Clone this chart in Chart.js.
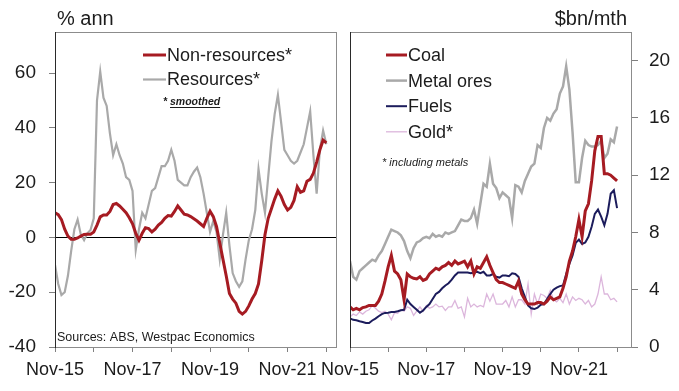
<!DOCTYPE html>
<html>
<head>
<meta charset="utf-8">
<script src="https://cdn.jsdelivr.net/npm/chart.js@4.4.1/dist/chart.umd.min.js"></script>
<style>
  html, body { margin: 0; padding: 0; background: #fff; }
  #wrap { position: relative; width: 679px; height: 391px; overflow: hidden; }
  canvas { position: absolute; top: 0; }
  #left { left: 0; }
  #right { left: 300px; }
</style>
</head>
<body>
<div id="wrap">
  <canvas id="left" width="345" height="391"></canvas>
  <canvas id="right" width="379" height="391"></canvas>
</div>
<script>
/* ---------- data (monthly, Nov-15 .. Nov-22) ---------- */
const monthNames = ["Jan","Feb","Mar","Apr","May","Jun","Jul","Aug","Sep","Oct","Nov","Dec"];
const months = [];
for (let i = 0; i < 85; i++) {
  months.push(monthNames[(10 + i) % 12] + "-" + (15 + Math.floor((10 + i) / 12)));
}
const xTickLabels = ["Nov-15", "Nov-17", "Nov-19", "Nov-21"];

// left panel, % ann
const nonResources = [9, 8.3, 6.5, 3, 0.5, -0.7, -0.7, -0.2, 0.5, 1.1, 1.2, 1.2, 2, 4.5, 7.5, 8.2, 8.2, 9.5, 12, 12.4,
  11.5, 10.3, 9, 7.2, 5, 1.5, -1, 1.5, 3.5, 3.2, 2, 3, 4.5, 5.5, 7, 8, 7.8, 9.5, 11.5, 10,
  8.5, 8.2, 7.6, 6.8, 6, 5, 4, 7, 9.6, 7.6, 4, -2, -8, -14, -20.5, -22.5, -24, -27, -28, -27,
  -25, -22.5, -20.5, -17, -8.5, 1, 7, 10.5, 14, 17, 15, 12, 10, 11, 13.5, 18.5, 16.5, 17, 20.5, 21.2,
  23.5, 27.5, 32, 35.5, 34.5];
const resources = [-10, -17, -21, -20, -14, -5, 3, 6.5, 1, -1, 1.5, 2.7, 7, 50, 60.5, 51, 48, 38, 30, 34,
  30, 27, 22, 21, 17, -4.5, 3, 9, 7, 12, 17, 18, 22, 26, 26, 28, 32, 28, 21, 20,
  19, 19, 22, 24, 25.5, 22, 16, 9, 2, 6, 2, -8, 1, 9, -3, -13, -16, -18, -16, -8,
  -1, 3, 10, 25, 16, 9, 22, 35, 45, 52, 42, 32, 30, 28, 27, 28, 31, 34, 40, 46,
  30, 16, 32, 39, 34];

// right panel, $bn/mth
const coal = [2.8, 2.6, 2.7, 2.6, 2.75, 2.8, 2.9, 2.9, 2.9, 3.2, 3.7, 4.6, 5.6, 6.4, 5.3, 5.1, 4.7, 3.3, 5.1, 4.9,
  4.8, 4.75, 4.9, 4.65, 4.75, 5.1, 5.3, 5.5, 5.4, 5.6, 5.7, 5.9, 5.7, 6.0, 5.8, 5.9, 6.0, 5.6, 6.0, 5.1,
  5.6, 5.5, 5.9, 6.3, 5.7, 5.2, 4.7, 4.5, 4.5, 4.4, 4.3, 4.2, 4.1, 4.6, 3.7, 3.3, 3.0, 3.0, 3.0, 3.1,
  3.1, 3.0, 3.2, 3.5, 3.3, 3.4, 3.5, 4.1, 4.9, 6.0, 6.7, 7.7, 8.9, 7.7, 9.5, 10.0, 11.6, 13.7, 14.7, 14.7,
  12.1, 12.1, 12.0, 11.8, 11.6];
const metalOres = [6.0, 4.9, 4.7, 5.3, 5.5, 5.7, 5.9, 6.1, 6.0, 6.4, 6.7, 7.2, 7.7, 8.2, 8.1, 8.0, 7.8, 7.4, 6.7, 6.2,
  6.9, 7.3, 7.4, 7.6, 7.7, 7.6, 7.9, 7.7, 7.8, 7.7, 8.0, 7.9, 8.0, 8.1, 8.5, 8.9, 8.8, 8.8, 9.0, 9.6,
  8.6, 10.0, 11.4, 11.2, 12.8, 11.4, 11.1, 10.4, 10.8, 10.6, 10.4, 9.0, 11.3, 11.2, 10.8, 11.6, 12.1, 12.6, 12.8, 14.1,
  13.9, 15.3, 16.0, 15.8, 16.3, 16.6, 17.7, 18.2, 19.6, 18.0, 15.0, 11.5, 11.5, 13.2, 14.4, 14.1, 14.0, 14.0, 14.1, 14.4,
  13.2, 13.5, 14.5, 14.3, 15.4];
const fuels = [2.0, 1.9, 1.87, 1.8, 1.75, 1.68, 1.68, 1.85, 1.98, 2.15, 2.3, 2.38, 2.4, 2.45, 2.45, 2.5, 2.57, 2.6, 3.3, 3.0,
  2.8, 2.6, 2.4, 2.55, 2.8, 3.0, 3.35, 3.7, 3.85, 4.1, 4.3, 4.45, 4.7, 5.0, 5.2, 5.2, 5.2, 5.2, 5.15, 5.2,
  5.25, 5.15, 5.25, 5.0, 5.0, 5.1, 4.9, 4.85, 5.0, 5.0, 4.95, 5.15, 5.1, 4.9, 4.1, 3.5, 2.9, 2.7, 2.65, 2.75,
  2.95, 3.0, 3.35, 3.7, 4.0, 4.15, 4.25, 4.3, 5.1, 5.8, 6.4, 7.27, 7.5, 7.2, 7.3, 7.7, 8.4, 9.3, 9.6, 9.1,
  8.5, 9.3, 10.7, 10.95, 9.7];
const gold = [2.1, 2.3, 2.2, 2.45, 2.3, 2.5, 2.6, 2.9, 2.7, 2.5, 2.4, 2.5, 2.3, 1.9, 2.4, 2.35, 2.6, 2.5, 2.8, 2.7,
  2.2, 2.5, 2.8, 2.5, 2.9, 2.7, 2.8, 3.0, 2.8, 2.85, 2.55, 2.8, 2.8, 3.25, 2.7, 2.8, 2.1, 3.4, 2.8, 3.0,
  2.8, 2.9, 2.8, 3.7, 3.2, 3.7, 3.0, 3.0, 3.0, 3.25, 2.8, 3.5, 2.8, 3.3, 3.3, 3.0, 4.4, 2.3, 3.7, 3.0,
  3.7, 3.6, 3.4, 3.95, 3.3, 3.15, 3.4, 3.1, 3.7, 3.0, 3.5, 3.25, 3.4, 3.3, 3.0, 3.25, 2.8, 3.0, 3.7, 4.9,
  3.7, 3.7, 3.3, 3.4, 3.15];

/* ---------- styling ---------- */
const FONT = "'Liberation Sans', Arial, sans-serif";
const TEXT = "#1c1c1c";
const RED = "#a61b22";
const GREY = "#a9a9a9";
const NAVY = "#1c1c5c";
const PINK = "#dcb6dc";

const pts = arr => arr.map((v, i) => ({ x: i, y: v }));

// box around the plot + titles, legend and notes
const panelPlugin = {
  id: "panel",
  afterDatasetsDraw(chart, args, o) {
    const { ctx, chartArea: a } = chart;
    ctx.save();
    ctx.lineWidth = 1;
    ctx.strokeStyle = "#8c8c8c";
    ctx.strokeRect(a.left + 0.5, a.top + 0.5, a.right - a.left - 1, a.bottom - a.top);
    ctx.strokeStyle = "#2a2a2a";
    ctx.beginPath();
    ctx.moveTo(a.left + 0.5, a.top);
    ctx.lineTo(a.left + 0.5, a.bottom + 1);
    ctx.stroke();

    ctx.fillStyle = TEXT;
    ctx.textBaseline = "alphabetic";
    ctx.font = "20px " + FONT;
    ctx.textAlign = o.titleAlign;
    ctx.fillText(o.title, o.titleX, 25);

    // legend
    ctx.font = "18px " + FONT;
    ctx.textAlign = "left";
    ctx.textBaseline = "middle";
    chart.data.datasets.forEach((ds, i) => {
      const y = o.legendY + i * o.legendGap;
      ctx.strokeStyle = ds.borderColor;
      ctx.lineWidth = ds.borderWidth;
      ctx.beginPath();
      ctx.moveTo(o.legendX, y);
      ctx.lineTo(o.legendX + o.legendW, y);
      ctx.stroke();
      ctx.fillText(ds.label, o.legendX + o.legendW + 1, y + 1);
    });

    // notes
    o.notes.forEach(n => {
      ctx.font = n.font;
      ctx.textBaseline = "alphabetic";
      ctx.fillText(n.text, n.x, n.y);
      if (n.underline) {
        const w0 = ctx.measureText(n.underline[0]).width;
        const w1 = ctx.measureText(n.underline[1]).width;
        ctx.fillRect(n.x + w0, n.y + 2, w1, 1);
      }
    });
    ctx.restore();
  }
};

function xScale(max) {
  return {
    type: "linear",
    min: 0,
    max: max,
    afterBuildTicks: s => { s.ticks = [0, 12, 24, 36, 48, 60, 72, 84].map(v => ({ value: v })); },
    ticks: {
      autoSkip: false, maxRotation: 0, minRotation: 0, padding: 7,
      color: TEXT, font: { family: FONT, size: 18 },
      callback: v => (xTickLabels.includes(months[v]) ? months[v] : "")
    },
    grid: { drawOnChartArea: false, tickLength: 5, tickColor: "#808080" },
    border: { display: false },
    afterFit: s => { s.height = 44; }
  };
}

const lineDs = (label, data, color, width) => ({
  label, data: pts(data), borderColor: color, backgroundColor: color,
  borderWidth: width, pointRadius: 0, tension: 0, fill: false
});

new Chart(document.getElementById("left"), {
  type: "line",
  data: {
    datasets: [
      lineDs("Non-resources*", nonResources, RED, 3),
      lineDs("Resources*", resources, GREY, 2.2)
    ]
  },
  options: {
    responsive: false,
    animation: false,
    layout: { padding: { top: 32, right: 8, left: 0, bottom: 0 } },
    plugins: {
      legend: { display: false },
      tooltip: { enabled: false },
      panel: {
        title: "% ann", titleAlign: "left", titleX: 57,
        legendX: 143, legendW: 23, legendY: 55, legendGap: 24.5,
        notes: [
          { text: "* smoothed", x: 163, y: 105, font: "italic bold 10.5px " + FONT, underline: ["* ", "smoothed"] },
          { text: "Sources: ABS, Westpac Economics", x: 57, y: 341, font: "12.5px " + FONT }
        ]
      }
    },
    scales: {
      x: xScale(87.3),
      y: {
        min: -40, max: 75,
        afterBuildTicks: s => { s.ticks = [-40, -20, 0, 20, 40, 60].map(v => ({ value: v })); },
        ticks: { color: TEXT, font: { family: FONT, size: 19 }, padding: 13 },
        grid: {
          color: c => (c.tick && c.tick.value === 0 ? "#000" : "rgba(0,0,0,0)"),
          tickColor: "#808080", tickLength: 6
        },
        border: { display: false },
        afterFit: s => { s.width = 55; }
      }
    }
  },
  plugins: [panelPlugin]
});

new Chart(document.getElementById("right"), {
  type: "line",
  data: {
    datasets: [
      lineDs("Coal", coal, RED, 3),
      lineDs("Metal ores", metalOres, GREY, 2.5),
      lineDs("Fuels", fuels, NAVY, 2),
      lineDs("Gold*", gold, PINK, 1.3)
    ]
  },
  options: {
    responsive: false,
    animation: false,
    layout: { padding: { top: 32, right: 0, left: 50, bottom: 0 } },
    plugins: {
      legend: { display: false },
      tooltip: { enabled: false },
      panel: {
        title: "$bn/mth", titleAlign: "right", titleX: 327,
        legendX: 86, legendW: 21, legendY: 55, legendGap: 25.6,
        notes: [
          { text: "* including metals", x: 82, y: 166, font: "italic 11px " + FONT }
        ]
      }
    },
    scales: {
      x: xScale(88.7),
      y: {
        position: "right",
        min: 0, max: 22,
        afterBuildTicks: s => { s.ticks = [0, 4, 8, 12, 16, 20].map(v => ({ value: v })); },
        ticks: { color: TEXT, font: { family: FONT, size: 19 }, padding: 11 },
        grid: { drawOnChartArea: false, tickColor: "#808080", tickLength: 6 },
        border: { display: false },
        afterFit: s => { s.width = 47; }
      }
    }
  },
  plugins: [panelPlugin]
});
</script>
</body>
</html>
